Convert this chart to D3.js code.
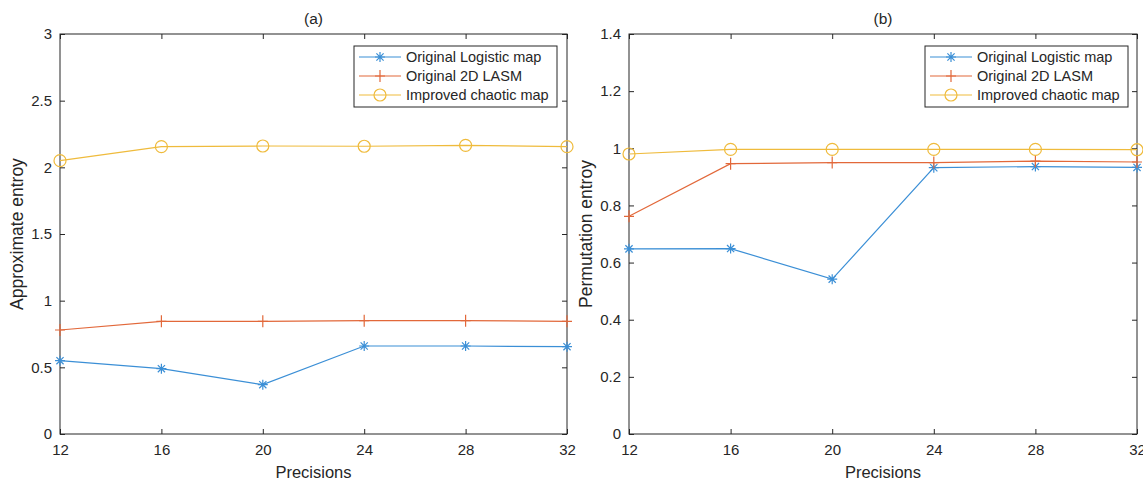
<!DOCTYPE html>
<html>
<head>
<meta charset="utf-8">
<script src="https://cdn.jsdelivr.net/npm/d3@7"></script>
<style>
  body { margin: 0; background: #fff; }
  text { font-family: "Liberation Sans", Arial, sans-serif; fill: #262626; }
</style>
</head>
<body>
<div id="chart"></div>
<script>
// Data
const precisions = [12, 16, 20, 24, 28, 32];
const seriesNames = ["Original Logistic map", "Original 2D LASM", "Improved chaotic map"];
const seriesColors = ["#3b8fd6", "#e2683a", "#efbb3c"];
const seriesMarkers = ["asterisk", "plus", "circle"];

// (a) Approximate entropy
const apLogistic = [0.55, 0.49, 0.37, 0.66, 0.66, 0.655];
const apLasm = [0.78, 0.845, 0.845, 0.85, 0.85, 0.845];
const apImproved = [2.05, 2.155, 2.16, 2.158, 2.165, 2.155];
const apTicks = [0, 0.5, 1, 1.5, 2, 2.5, 3];

// (b) Permutation entropy
const peLogistic = [0.648, 0.649, 0.542, 0.932, 0.936, 0.933];
const peLasm = [0.762, 0.946, 0.95, 0.95, 0.955, 0.952];
const peImproved = [0.98, 0.996, 0.996, 0.996, 0.996, 0.995];
const peTicks = [0, 0.2, 0.4, 0.6, 0.8, 1, 1.2, 1.4];

const width = 1143;
const height = 480;
const svg = d3.select("#chart").append("svg")
    .attr("width", width)
    .attr("height", height);

function drawMarker(g, type, x, y, color) {
    const s = 5;
    if (type === "circle") {
        g.append("circle").attr("cx", x).attr("cy", y).attr("r", 6)
            .attr("fill", "none").attr("stroke", color).attr("stroke-width", 1.2);
    } else if (type === "plus") {
        g.append("path")
            .attr("d", `M${x - s},${y}H${x + s}M${x},${y - 6}V${y + 6}`)
            .attr("stroke", color).attr("stroke-width", 1.2);
    } else {
        const d = s * 0.72;
        g.append("path")
            .attr("d", `M${x - s},${y}H${x + s}M${x},${y - s}V${y + s}` +
                `M${x - d},${y - d}L${x + d},${y + d}M${x - d},${y + d}L${x + d},${y - d}`)
            .attr("stroke", color).attr("stroke-width", 1.2);
    }
}

function drawPanel(opts) {
    const { left, right, top, bottom, yMax, yTicks, series, title, yLabel, legendX } = opts;
    const g = svg.append("g");

    const x = d3.scaleLinear().domain([12, 32]).range([left, right]);
    const y = d3.scaleLinear().domain([0, yMax]).range([bottom, top]);

    // axes box
    g.append("rect")
        .attr("x", left).attr("y", top)
        .attr("width", right - left).attr("height", bottom - top)
        .attr("fill", "none").attr("stroke", "#262626").attr("stroke-width", 1);

    // x ticks (bottom and top, inward)
    const xAxis = d3.axisBottom(x).tickValues(precisions).tickSizeInner(-5).tickSizeOuter(0).tickPadding(10);
    const xg = g.append("g").attr("transform", `translate(0,${bottom})`).call(xAxis);
    const xTop = d3.axisTop(x).tickValues(precisions).tickSizeInner(-5).tickSizeOuter(0).tickFormat("");
    const xtg = g.append("g").attr("transform", `translate(0,${top})`).call(xTop);

    const yAxis = d3.axisLeft(y).tickValues(yTicks).tickSizeInner(-5).tickSizeOuter(0).tickPadding(8)
        .tickFormat(d => String(d));
    const yg = g.append("g").attr("transform", `translate(${left},0)`).call(yAxis);
    const yRight = d3.axisRight(y).tickValues(yTicks).tickSizeInner(-5).tickSizeOuter(0).tickFormat("");
    const yrg = g.append("g").attr("transform", `translate(${right},0)`).call(yRight);

    [xg, xtg, yg, yrg].forEach(a => {
        a.select(".domain").remove();
        a.selectAll("line").attr("stroke", "#262626");
        a.selectAll("text").attr("font-size", 15).style("font-family", "Liberation Sans, Arial, sans-serif")
            .attr("fill", "#262626");
    });

    // series lines and markers
    const line = d3.line().x((d, i) => x(precisions[i])).y(d => y(d));
    series.forEach((vals, k) => {
        g.append("path").datum(vals)
            .attr("d", line)
            .attr("fill", "none")
            .attr("stroke", seriesColors[k])
            .attr("stroke-width", 1.2);
        vals.forEach((v, i) => drawMarker(g, seriesMarkers[k], x(precisions[i]), y(v), seriesColors[k]));
    });

    // title
    g.append("text")
        .attr("x", (left + right) / 2).attr("y", top - 10)
        .attr("text-anchor", "middle").attr("font-size", 15.5)
        .text(title);

    // x label
    g.append("text")
        .attr("x", (left + right) / 2).attr("y", bottom + 44)
        .attr("text-anchor", "middle").attr("font-size", 16.5)
        .text("Precisions");

    // y label
    g.append("text")
        .attr("transform", `translate(${left - 37},${(top + bottom) / 2}) rotate(-90)`)
        .attr("text-anchor", "middle").attr("font-size", 17.5)
        .text(yLabel);

    // legend
    const lg = g.append("g").attr("transform", `translate(${legendX},${top + 12})`);
    lg.append("rect")
        .attr("width", 203).attr("height", 61)
        .attr("fill", "#fff").attr("stroke", "#262626").attr("stroke-width", 1);
    seriesNames.forEach((name, k) => {
        const yy = 11 + k * 19;
        lg.append("line")
            .attr("x1", 5).attr("x2", 47).attr("y1", yy).attr("y2", yy)
            .attr("stroke", seriesColors[k]).attr("stroke-width", 1.2);
        drawMarker(lg, seriesMarkers[k], 26, yy, seriesColors[k]);
        lg.append("text")
            .attr("x", 52).attr("y", yy + 5)
            .attr("font-size", 14.5)
            .text(name);
    });
}

drawPanel({
    left: 60, right: 567, top: 34, bottom: 434,
    yMax: 3, yTicks: apTicks,
    series: [apLogistic, apLasm, apImproved],
    title: "(a)", yLabel: "Approximate entroy",
    legendX: 354
});

drawPanel({
    left: 629, right: 1137, top: 34, bottom: 434,
    yMax: 1.4, yTicks: peTicks,
    series: [peLogistic, peLasm, peImproved],
    title: "(b)", yLabel: "Permutation entroy",
    legendX: 925
});
</script>
</body>
</html>
